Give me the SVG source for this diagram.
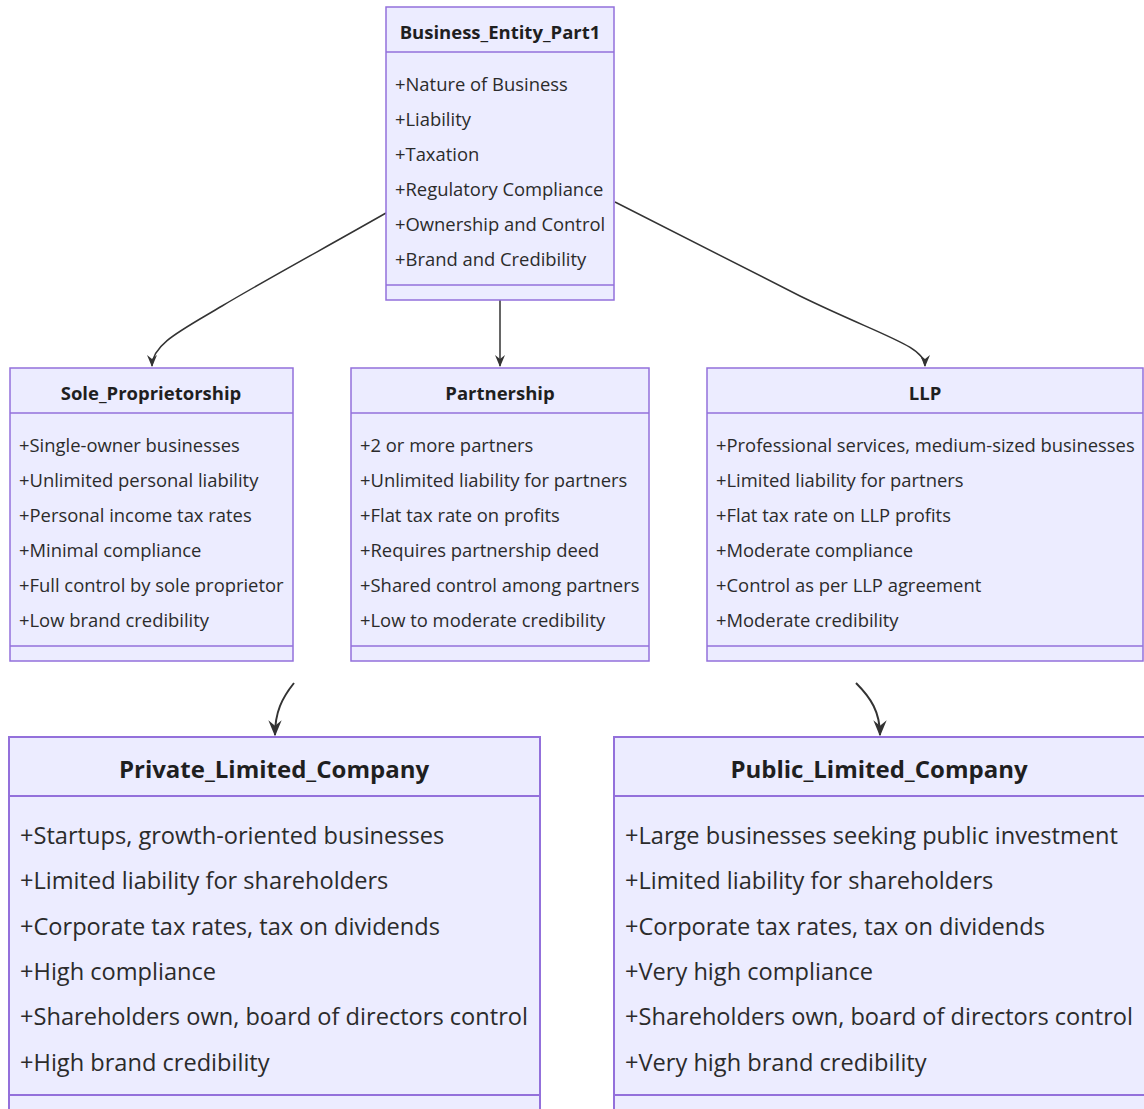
<svg xmlns="http://www.w3.org/2000/svg" width="1144" height="1109" viewBox="0 0 1144 1109">
  <style>
    .box { fill: #ECECFF; stroke: #9370DB; stroke-width: 1.5; }
    .div { stroke: #9370DB; stroke-width: 1.5; }
    .title { font-family: "Open Sans", "Noto Sans", sans-serif; font-weight: bold; font-size: 18.5px; fill: #1f1f1f; text-anchor: middle; }
    .attr { font-family: "Open Sans", "Noto Sans", sans-serif; font-size: 18.4px; fill: #2b2b2b; }
    .big .box, .big .div { stroke-width: 2; }
    .big .title { font-size: 24px; }
    .big .attr { font-size: 23.6px; }
    .edge { fill: none; stroke: #333; stroke-width: 1.5; }
    .edge.big { stroke-width: 2; }
  </style>
  <defs>
    <marker id="dep" viewBox="0 0 12 12" refX="11" refY="6" markerWidth="8" markerHeight="8" orient="auto" markerUnits="strokeWidth">
      <path d="M0,1 L12,6 L0,11 L4,6 z" fill="#333"/>
    </marker>
  </defs>

  <rect width="1144" height="1109" fill="#ffffff"/>

  <!-- connectors -->
  <g id="edges">
    <path class="edge" d="M386,213 C330,245 262,282 222,306 C182,330 152,344 152,366" marker-end="url(#dep)"/>
    <path class="edge" d="M500,300 L500,366" marker-end="url(#dep)"/>
    <path class="edge" d="M615,202 L800,296 C882,336 925,346 925,366" marker-end="url(#dep)"/>
    <path class="edge big" d="M294,683 C282,698 275,712 275,735" marker-end="url(#dep)"/>
    <path class="edge big" d="M856,683 C871,698 880,712 880,735" marker-end="url(#dep)"/>
  </g>

  <!-- Business_Entity_Part1 -->
  <g id="Business_Entity_Part1">
    <rect class="box" x="386" y="7" width="228" height="293"/>
    <line class="div" x1="386" y1="52" x2="614" y2="52"/>
    <line class="div" x1="386" y1="285" x2="614" y2="285"/>
    <text class="title" x="500" y="39">Business_Entity_Part1</text>
    <text class="attr" x="395" y="91">+Nature of Business</text>
    <text class="attr" x="395" y="126">+Liability</text>
    <text class="attr" x="395" y="161">+Taxation</text>
    <text class="attr" x="395" y="196">+Regulatory Compliance</text>
    <text class="attr" x="395" y="231">+Ownership and Control</text>
    <text class="attr" x="395" y="266">+Brand and Credibility</text>
  </g>

  <!-- Sole_Proprietorship -->
  <g id="Sole_Proprietorship">
    <rect class="box" x="10" y="368" width="283" height="293"/>
    <line class="div" x1="10" y1="413" x2="293" y2="413"/>
    <line class="div" x1="10" y1="646" x2="293" y2="646"/>
    <text class="title" x="151" y="400">Sole_Proprietorship</text>
    <text class="attr" x="19" y="452">+Single-owner businesses</text>
    <text class="attr" x="19" y="487">+Unlimited personal liability</text>
    <text class="attr" x="19" y="522">+Personal income tax rates</text>
    <text class="attr" x="19" y="557">+Minimal compliance</text>
    <text class="attr" x="19" y="592">+Full control by sole proprietor</text>
    <text class="attr" x="19" y="627">+Low brand credibility</text>
  </g>

  <!-- Partnership -->
  <g id="Partnership">
    <rect class="box" x="351" y="368" width="298" height="293"/>
    <line class="div" x1="351" y1="413" x2="649" y2="413"/>
    <line class="div" x1="351" y1="646" x2="649" y2="646"/>
    <text class="title" x="500" y="400">Partnership</text>
    <text class="attr" x="360" y="452">+2 or more partners</text>
    <text class="attr" x="360" y="487">+Unlimited liability for partners</text>
    <text class="attr" x="360" y="522">+Flat tax rate on profits</text>
    <text class="attr" x="360" y="557">+Requires partnership deed</text>
    <text class="attr" x="360" y="592">+Shared control among partners</text>
    <text class="attr" x="360" y="627">+Low to moderate credibility</text>
  </g>

  <!-- LLP -->
  <g id="LLP">
    <rect class="box" x="707" y="368" width="436" height="293"/>
    <line class="div" x1="707" y1="413" x2="1143" y2="413"/>
    <line class="div" x1="707" y1="646" x2="1143" y2="646"/>
    <text class="title" x="925" y="400">LLP</text>
    <text class="attr" x="716" y="452">+Professional services, medium-sized businesses</text>
    <text class="attr" x="716" y="487">+Limited liability for partners</text>
    <text class="attr" x="716" y="522">+Flat tax rate on LLP profits</text>
    <text class="attr" x="716" y="557">+Moderate compliance</text>
    <text class="attr" x="716" y="592">+Control as per LLP agreement</text>
    <text class="attr" x="716" y="627">+Moderate credibility</text>
  </g>

  <!-- Private_Limited_Company -->
  <g id="Private_Limited_Company" class="big">
    <rect class="box" x="9" y="737" width="531" height="390"/>
    <line class="div" x1="9" y1="796" x2="540" y2="796"/>
    <line class="div" x1="9" y1="1095" x2="540" y2="1095"/>
    <text class="title" x="274" y="778">Private_Limited_Company</text>
    <text class="attr" x="20" y="844">+Startups, growth-oriented businesses</text>
    <text class="attr" x="20" y="889">+Limited liability for shareholders</text>
    <text class="attr" x="20" y="935">+Corporate tax rates, tax on dividends</text>
    <text class="attr" x="20" y="980">+High compliance</text>
    <text class="attr" x="20" y="1025">+Shareholders own, board of directors control</text>
    <text class="attr" x="20" y="1071">+High brand credibility</text>
  </g>

  <!-- Public_Limited_Company -->
  <g id="Public_Limited_Company" class="big">
    <rect class="box" x="614" y="737" width="540" height="390"/>
    <line class="div" x1="614" y1="796" x2="1144" y2="796"/>
    <line class="div" x1="614" y1="1095" x2="1144" y2="1095"/>
    <text class="title" x="879" y="778">Public_Limited_Company</text>
    <text class="attr" x="625" y="844">+Large businesses seeking public investment</text>
    <text class="attr" x="625" y="889">+Limited liability for shareholders</text>
    <text class="attr" x="625" y="935">+Corporate tax rates, tax on dividends</text>
    <text class="attr" x="625" y="980">+Very high compliance</text>
    <text class="attr" x="625" y="1025">+Shareholders own, board of directors control</text>
    <text class="attr" x="625" y="1071">+Very high brand credibility</text>
  </g>
</svg>
